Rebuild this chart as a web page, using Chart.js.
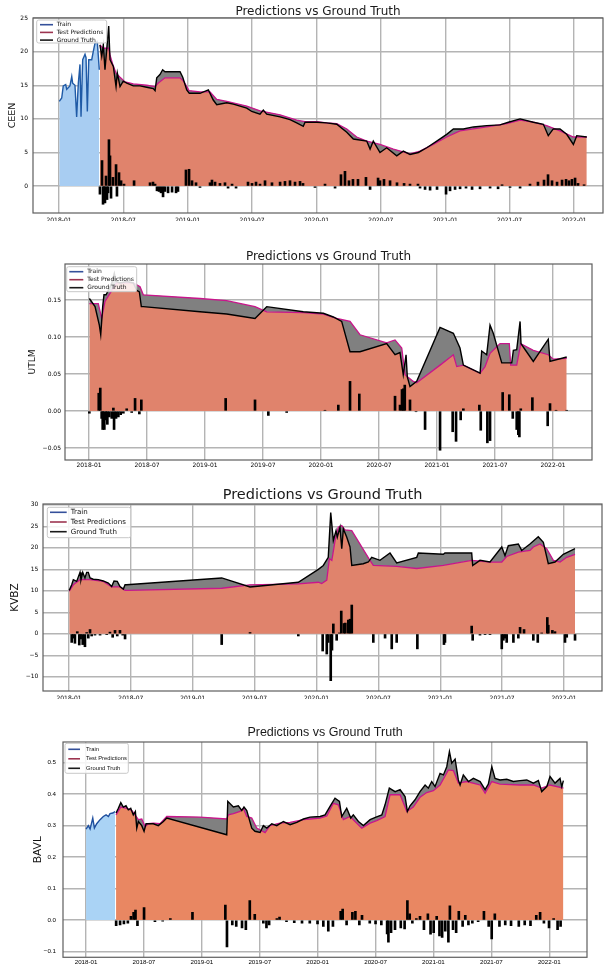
<!DOCTYPE html>
<html><head><meta charset="utf-8">
<script src="https://cdn.jsdelivr.net/npm/chart.js@4.4.1/dist/chart.umd.min.js"></script>
<style>
html,body{margin:0;padding:0;background:#fff;}
body{width:608px;height:968px;position:relative;overflow:hidden;}
canvas{position:absolute;left:0;}
</style></head><body>
<canvas id="c1"></canvas>
<canvas id="c2"></canvas>
<canvas id="c3"></canvas>
<canvas id="c4"></canvas>
<script>
// ---------- shared labels ----------
const chartTitle = 'Predictions vs Ground Truth';
const legendLabels = ['Train', 'Test Predictions', 'Ground Truth'];
const xTickLabels = ['2018-01','2018-07','2019-01','2019-07','2020-01','2020-07','2021-01','2021-07','2022-01'];

// ---------- CEEN ----------
const ceenYTicks = [0, 5, 10, 15, 20, 25];
const ceenTrain = [[2018.002,12.6],[2018.021,13.1],[2018.033,14.9],[2018.052,15.1],[2018.060,14.4],[2018.085,14.9],[2018.099,16.3],[2018.106,15.3],[2018.124,15.0],[2018.137,10.3],[2018.150,15.3],[2018.163,18.1],[2018.171,10.3],[2018.184,18.8],[2018.202,19.6],[2018.210,19.1],[2018.220,11.1],[2018.231,18.8],[2018.254,18.8],[2018.266,20.0],[2018.280,21.3],[2018.297,21.5],[2018.313,17.3]];
const ceenGroundTruth = [[2018.318,21.0],[2018.332,19.3],[2018.344,21.0],[2018.357,17.3],[2018.375,21.3],[2018.386,23.8],[2018.396,18.8],[2018.422,17.8],[2018.443,14.8],[2018.453,16.8],[2018.474,14.8],[2018.499,15.6],[2018.526,15.3],[2018.577,14.9],[2018.629,14.9],[2018.681,14.7],[2018.732,14.5],[2018.746,14.2],[2018.759,16.1],[2018.784,16.6],[2018.805,17.3],[2018.823,17.0],[2018.940,17.0],[2018.961,16.2],[2018.992,14.3],[2019.012,13.8],[2019.095,13.8],[2019.160,14.3],[2019.198,12.8],[2019.225,12.1],[2019.303,12.4],[2019.354,12.2],[2019.458,11.6],[2019.497,11.1],[2019.561,10.7],[2019.587,11.3],[2019.613,10.7],[2019.717,10.3],[2019.794,9.9],[2019.846,9.4],[2019.897,8.9],[2019.911,9.5],[2020.002,9.5],[2020.079,9.4],[2020.157,9.2],[2020.235,8.0],[2020.286,7.0],[2020.390,6.7],[2020.416,5.5],[2020.441,6.7],[2020.493,5.0],[2020.545,5.7],[2020.623,4.5],[2020.674,5.2],[2020.726,4.7],[2020.791,5.0],[2020.856,5.7],[2020.934,6.7],[2021.011,7.7],[2021.063,8.5],[2021.140,8.5],[2021.218,8.8],[2021.322,9.0],[2021.425,9.1],[2021.490,9.5],[2021.581,10.0],[2021.684,9.5],[2021.762,9.2],[2021.800,7.5],[2021.839,8.5],[2021.891,8.5],[2021.943,7.7],[2021.995,6.2],[2022.021,7.5],[2022.099,7.3]];
const ceenPredictions = [[2018.318,21.0],[2018.342,20.5],[2018.386,20.5],[2018.396,19.5],[2018.419,18.0],[2018.443,16.8],[2018.474,16.2],[2018.513,15.5],[2018.577,15.2],[2018.681,15.0],[2018.746,14.8],[2018.769,15.3],[2018.823,16.1],[2018.940,16.1],[2018.971,15.5],[2019.010,14.2],[2019.095,14.0],[2019.173,14.0],[2019.225,12.9],[2019.303,12.6],[2019.458,11.9],[2019.561,11.2],[2019.717,10.6],[2019.846,9.8],[2019.911,9.6],[2020.002,9.6],[2020.079,9.4],[2020.157,9.3],[2020.235,8.5],[2020.312,7.3],[2020.390,6.7],[2020.493,6.2],[2020.597,5.5],[2020.726,4.8],[2020.804,5.2],[2020.907,6.2],[2021.011,7.3],[2021.114,8.2],[2021.322,8.8],[2021.478,9.3],[2021.581,9.8],[2021.684,9.5],[2021.787,9.0],[2021.891,8.2],[2021.995,7.3],[2022.099,7.3]];
const ceenErrors = [[2018.318,-1.2],[2018.334,3.8],[2018.342,-2.7],[2018.350,-1.5],[2018.357,-2.5],[2018.365,1.5],[2018.373,-2.0],[2018.381,-1.0],[2018.388,6.9],[2018.396,4.5],[2018.404,-1.8],[2018.419,1.3],[2018.443,3.2],[2018.450,-1.5],[2018.466,2.0],[2018.482,0.8],[2018.505,0.3],[2018.583,0.8],[2018.707,0.5],[2018.730,0.6],[2018.746,0.3],[2018.761,-0.7],[2018.777,-0.8],[2018.792,-1.0],[2018.808,-1.6],[2018.823,-0.8],[2018.847,-1.0],[2018.878,-0.9],[2018.909,-1.0],[2018.924,-0.8],[2018.986,2.4],[2019.010,2.5],[2019.033,0.8],[2019.064,0.5],[2019.095,-0.2],[2019.173,0.5],[2019.188,0.9],[2019.212,0.6],[2019.250,0.4],[2019.289,0.5],[2019.313,-0.3],[2019.344,0.3],[2019.375,-0.3],[2019.468,0.6],[2019.499,0.4],[2019.530,0.6],[2019.561,0.3],[2019.600,0.8],[2019.654,0.5],[2019.717,0.6],[2019.755,0.7],[2019.794,0.8],[2019.833,0.6],[2019.872,0.7],[2019.895,0.4],[2019.988,-0.2],[2020.066,0.3],[2020.144,-0.3],[2020.190,1.7],[2020.221,2.2],[2020.252,0.8],[2020.283,1.0],[2020.322,1.0],[2020.384,1.3],[2020.416,-0.5],[2020.478,1.2],[2020.493,0.8],[2020.524,1.0],[2020.571,0.8],[2020.625,0.5],[2020.680,0.4],[2020.726,0.3],[2020.788,0.3],[2020.804,-0.3],[2020.843,-0.5],[2020.882,-0.6],[2020.936,-0.5],[2021.006,-1.2],[2021.037,-0.7],[2021.076,-0.5],[2021.115,-0.4],[2021.161,-0.3],[2021.208,-0.5],[2021.270,-0.4],[2021.348,-0.3],[2021.410,-0.4],[2021.441,0.2],[2021.503,-0.2],[2021.581,-0.3],[2021.658,0.3],[2021.720,0.6],[2021.767,0.9],[2021.798,1.7],[2021.829,0.8],[2021.868,0.6],[2021.907,0.9],[2021.938,1.0],[2021.961,0.8],[2021.984,1.0],[2022.008,1.2],[2022.031,0.4],[2022.078,0.2]];

// ---------- UTLM ----------
const utlmYTicks = [-0.05, 0, 0.05, 0.10, 0.15];
const utlmGroundTruth = [[2018.003,0.152],[2018.052,0.141],[2018.089,0.116],[2018.101,0.103],[2018.118,0.141],[2018.129,0.157],[2018.147,0.157],[2018.166,0.163],[2018.196,0.173],[2018.218,0.186],[2018.233,0.175],[2018.267,0.173],[2018.325,0.175],[2018.382,0.173],[2018.411,0.163],[2018.434,0.161],[2018.451,0.141],[2018.468,0.141],[2018.957,0.134],[2019.187,0.131],[2019.431,0.125],[2019.532,0.141],[2019.847,0.134],[2020.020,0.132],[2020.106,0.127],[2020.178,0.121],[2020.250,0.080],[2020.336,0.080],[2020.566,0.091],[2020.638,0.076],[2020.681,0.079],[2020.709,0.049],[2020.733,0.076],[2020.744,0.046],[2020.767,0.033],[2020.825,0.040],[2021.026,0.113],[2021.141,0.105],[2021.198,0.085],[2021.227,0.062],[2021.371,0.051],[2021.385,0.081],[2021.428,0.076],[2021.457,0.116],[2021.485,0.105],[2021.558,0.065],[2021.644,0.065],[2021.658,0.082],[2021.687,0.083],[2021.716,0.121],[2021.724,0.091],[2021.830,0.067],[2021.959,0.097],[2021.974,0.067],[2022.118,0.073]];
const utlmPredictions = [[2018.003,0.145],[2018.080,0.145],[2018.109,0.125],[2018.138,0.148],[2018.181,0.159],[2018.239,0.173],[2018.382,0.173],[2018.440,0.168],[2018.468,0.157],[2018.957,0.152],[2019.187,0.149],[2019.431,0.141],[2019.532,0.134],[2019.847,0.133],[2020.020,0.131],[2020.135,0.125],[2020.250,0.121],[2020.336,0.103],[2020.566,0.092],[2020.638,0.096],[2020.696,0.085],[2020.724,0.049],[2020.796,0.040],[2020.825,0.038],[2021.026,0.062],[2021.141,0.076],[2021.170,0.060],[2021.227,0.062],[2021.371,0.051],[2021.414,0.060],[2021.457,0.078],[2021.543,0.091],[2021.623,0.091],[2021.635,0.062],[2021.687,0.062],[2021.722,0.091],[2021.830,0.082],[2021.959,0.076],[2022.003,0.070],[2022.118,0.071]];
const utlmErrors = [[2018.003,-0.003],[2018.084,0.024],[2018.097,0.031],[2018.109,-0.010],[2018.118,-0.025],[2018.132,-0.025],[2018.147,-0.012],[2018.158,-0.018],[2018.175,-0.008],[2018.196,-0.010],[2018.210,0.004],[2018.216,-0.025],[2018.233,-0.010],[2018.253,-0.008],[2018.273,-0.005],[2018.296,-0.003],[2018.325,0.003],[2018.368,-0.002],[2018.397,0.017],[2018.434,-0.004],[2018.451,0.015],[2019.178,0.017],[2019.431,0.015],[2019.546,-0.006],[2019.704,-0.002],[2020.034,0.001],[2020.149,0.008],[2020.250,0.040],[2020.330,0.023],[2020.638,0.020],[2020.681,0.008],[2020.698,0.029],[2020.710,0.030],[2020.722,0.035],[2020.767,0.015],[2020.819,-0.001],[2020.897,-0.025],[2021.026,-0.053],[2021.135,-0.028],[2021.164,-0.041],[2021.204,-0.012],[2021.227,0.003],[2021.365,0.008],[2021.377,-0.026],[2021.434,-0.043],[2021.457,-0.040],[2021.566,0.025],[2021.623,0.022],[2021.653,-0.010],[2021.687,-0.025],[2021.701,-0.032],[2021.710,-0.035],[2021.722,0.003],[2021.822,0.018],[2021.954,-0.020],[2021.974,0.010],[2022.026,0.001],[2022.118,0.001]];

// ---------- KVBZ ----------
const kvbzYTicks = [-10, -5, 0, 5, 10, 15, 20, 25, 30];
const kvbzGroundTruth = [[2018.002,10.1],[2018.022,11.4],[2018.035,12.6],[2018.062,12.2],[2018.089,14.3],[2018.097,12.6],[2018.111,14.3],[2018.129,13.0],[2018.143,14.3],[2018.156,14.3],[2018.170,13.0],[2018.196,12.7],[2018.237,12.6],[2018.277,12.3],[2018.318,11.8],[2018.345,11.0],[2018.364,12.3],[2018.390,12.2],[2018.412,11.0],[2018.439,10.4],[2018.453,11.4],[2018.466,11.4],[2019.234,13.0],[2019.463,10.9],[2019.853,12.0],[2020.015,15.0],[2020.055,15.9],[2020.095,17.8],[2020.115,28.2],[2020.136,21.7],[2020.158,24.0],[2020.168,22.5],[2020.190,24.8],[2020.204,19.8],[2020.217,24.4],[2020.244,22.5],[2020.271,20.2],[2020.285,15.9],[2020.378,16.3],[2020.419,16.7],[2020.446,17.8],[2020.513,17.1],[2020.594,18.8],[2020.648,16.5],[2020.810,17.8],[2020.823,18.8],[2021.025,18.5],[2021.038,18.8],[2021.254,18.8],[2021.262,15.9],[2021.321,17.1],[2021.402,16.7],[2021.497,20.2],[2021.523,18.2],[2021.550,20.5],[2021.631,20.9],[2021.658,19.4],[2021.725,20.9],[2021.792,22.6],[2021.833,21.3],[2021.873,16.3],[2021.927,16.7],[2021.994,18.5],[2022.089,19.8]];
const kvbzPredictions = [[2018.002,9.9],[2018.035,11.4],[2018.089,12.6],[2018.170,12.6],[2018.277,12.2],[2018.345,10.9],[2018.412,10.9],[2018.453,10.1],[2018.471,10.1],[2019.234,10.6],[2019.463,11.4],[2019.853,11.6],[2020.015,12.0],[2020.042,11.7],[2020.083,12.5],[2020.104,17.5],[2020.124,17.1],[2020.150,21.7],[2020.176,24.8],[2020.204,25.2],[2020.230,24.2],[2020.285,24.0],[2020.432,17.1],[2020.459,15.9],[2020.648,15.7],[2020.810,15.2],[2021.025,15.9],[2021.254,17.1],[2021.402,16.7],[2021.497,16.7],[2021.537,18.0],[2021.631,19.0],[2021.725,19.4],[2021.752,20.2],[2021.806,20.9],[2021.860,19.8],[2021.914,17.1],[2021.968,16.7],[2022.022,17.8],[2022.089,18.5]];
const kvbzErrors = [[2018.022,-2.0],[2018.035,-1.0],[2018.048,-2.2],[2018.067,0.5],[2018.083,-2.6],[2018.094,-1.2],[2018.111,-2.5],[2018.129,-3.0],[2018.143,0.3],[2018.156,-1.0],[2018.170,1.0],[2018.183,-0.5],[2018.210,-0.3],[2018.251,-0.3],[2018.305,-0.2],[2018.331,0.4],[2018.353,-0.8],[2018.372,0.8],[2018.390,-0.5],[2018.412,0.8],[2018.434,-0.3],[2018.453,-1.2],[2019.234,-2.5],[2019.463,0.3],[2019.853,-0.5],[2020.050,-4.0],[2020.083,-4.7],[2020.095,-2.0],[2020.115,-10.9],[2020.125,-3.8],[2020.136,2.3],[2020.163,-1.5],[2020.184,0.2],[2020.200,5.3],[2020.222,2.4],[2020.233,2.5],[2020.257,3.2],[2020.271,3.4],[2020.285,6.7],[2020.459,-2.0],[2020.554,-1.0],[2020.608,-3.5],[2020.648,-2.0],[2020.815,-3.5],[2021.030,-2.5],[2021.038,-2.0],[2021.254,1.8],[2021.262,-1.5],[2021.321,-0.3],[2021.362,-0.2],[2021.402,-0.2],[2021.497,-3.5],[2021.510,-1.5],[2021.523,-1.0],[2021.537,-2.0],[2021.591,-2.0],[2021.631,-1.0],[2021.645,1.5],[2021.677,1.0],[2021.752,-1.5],[2021.788,-2.0],[2021.820,0.2],[2021.865,3.8],[2021.873,2.0],[2021.906,0.8],[2021.927,0.5],[2022.008,-2.0],[2022.022,-0.8],[2022.089,-1.5]];

// ---------- BAVL ----------
const bavlYTicks = [-0.1, 0, 0.1, 0.2, 0.3, 0.4, 0.5];
const bavlTrain = [[2018.000,0.289],[2018.020,0.300],[2018.035,0.289],[2018.058,0.324],[2018.072,0.292],[2018.092,0.306],[2018.121,0.319],[2018.149,0.329],[2018.173,0.334],[2018.193,0.329],[2018.207,0.338],[2018.231,0.340],[2018.250,0.345]];
const bavlGroundTruth = [[2018.259,0.340],[2018.279,0.355],[2018.300,0.373],[2018.322,0.359],[2018.345,0.363],[2018.365,0.350],[2018.386,0.355],[2018.408,0.334],[2018.426,0.345],[2018.438,0.292],[2018.452,0.313],[2018.481,0.300],[2018.501,0.282],[2018.518,0.306],[2018.581,0.306],[2018.624,0.300],[2018.668,0.313],[2018.697,0.324],[2019.215,0.271],[2019.224,0.377],[2019.272,0.359],[2019.315,0.363],[2019.345,0.348],[2019.364,0.359],[2019.388,0.348],[2019.410,0.319],[2019.431,0.292],[2019.459,0.282],[2019.503,0.278],[2019.531,0.300],[2019.561,0.292],[2019.604,0.306],[2019.647,0.300],[2019.704,0.313],[2019.762,0.303],[2019.820,0.310],[2019.877,0.321],[2019.934,0.327],[2020.021,0.329],[2020.064,0.334],[2020.107,0.361],[2020.150,0.387],[2020.188,0.377],[2020.208,0.329],[2020.251,0.355],[2020.286,0.324],[2020.308,0.334],[2020.352,0.313],[2020.395,0.300],[2020.453,0.319],[2020.504,0.327],[2020.554,0.334],[2020.582,0.366],[2020.619,0.419],[2020.669,0.408],[2020.712,0.414],[2020.755,0.392],[2020.775,0.345],[2020.798,0.363],[2020.841,0.382],[2020.884,0.408],[2020.928,0.429],[2020.956,0.419],[2020.985,0.440],[2021.014,0.424],[2021.057,0.466],[2021.086,0.461],[2021.115,0.487],[2021.138,0.535],[2021.158,0.498],[2021.187,0.511],[2021.215,0.445],[2021.230,0.429],[2021.258,0.461],[2021.302,0.440],[2021.345,0.450],[2021.403,0.440],[2021.446,0.414],[2021.474,0.432],[2021.504,0.487],[2021.532,0.450],[2021.575,0.445],[2021.633,0.447],[2021.690,0.440],[2021.748,0.443],[2021.806,0.445],[2021.863,0.435],[2021.906,0.443],[2021.935,0.408],[2021.979,0.424],[2022.007,0.456],[2022.050,0.435],[2022.093,0.450],[2022.108,0.424],[2022.122,0.443]];
const bavlPredictions = [[2018.259,0.334],[2018.300,0.359],[2018.351,0.355],[2018.395,0.348],[2018.423,0.334],[2018.452,0.319],[2018.481,0.321],[2018.510,0.297],[2018.538,0.306],[2018.581,0.308],[2018.639,0.306],[2018.697,0.329],[2018.984,0.327],[2019.215,0.321],[2019.229,0.334],[2019.272,0.338],[2019.330,0.345],[2019.358,0.355],[2019.388,0.329],[2019.431,0.324],[2019.474,0.292],[2019.546,0.278],[2019.589,0.300],[2019.675,0.308],[2019.762,0.310],[2019.877,0.319],[2019.934,0.321],[2020.021,0.324],[2020.079,0.331],[2020.136,0.371],[2020.179,0.366],[2020.222,0.319],[2020.280,0.329],[2020.323,0.313],[2020.381,0.292],[2020.453,0.308],[2020.510,0.316],[2020.582,0.329],[2020.625,0.398],[2020.712,0.398],[2020.770,0.345],[2020.826,0.359],[2020.884,0.390],[2020.942,0.405],[2020.999,0.411],[2021.057,0.429],[2021.129,0.477],[2021.172,0.475],[2021.215,0.435],[2021.288,0.440],[2021.403,0.429],[2021.446,0.403],[2021.504,0.440],[2021.575,0.432],[2021.748,0.429],[2021.863,0.429],[2021.935,0.419],[2022.007,0.429],[2022.122,0.419]];
const bavlErrors = [[2018.260,-0.018],[2018.294,-0.015],[2018.327,-0.012],[2018.361,-0.010],[2018.388,0.012],[2018.411,0.025],[2018.427,0.032],[2018.444,-0.018],[2018.501,0.040],[2018.595,-0.005],[2018.662,-0.003],[2018.728,0.005],[2018.919,0.025],[2019.203,0.048],[2019.217,-0.085],[2019.263,-0.015],[2019.297,-0.020],[2019.347,-0.025],[2019.380,-0.030],[2019.414,0.062],[2019.457,0.018],[2019.531,-0.010],[2019.558,-0.025],[2019.581,-0.015],[2019.648,0.005],[2019.671,0.010],[2019.731,-0.005],[2019.798,-0.008],[2019.865,-0.010],[2019.932,-0.010],[2019.999,-0.012],[2020.049,-0.020],[2020.092,-0.035],[2020.132,-0.020],[2020.199,0.028],[2020.216,0.035],[2020.250,-0.015],[2020.300,0.025],[2020.326,0.028],[2020.360,-0.015],[2020.383,0.015],[2020.450,-0.010],[2020.500,-0.012],[2020.550,-0.015],[2020.600,-0.044],[2020.611,-0.070],[2020.634,-0.040],[2020.668,-0.030],[2020.718,-0.025],[2020.751,-0.028],[2020.775,0.062],[2020.795,0.020],[2020.818,-0.010],[2020.852,0.005],[2020.884,0.012],[2020.918,-0.030],[2020.952,0.020],[2020.975,-0.045],[2021.002,-0.040],[2021.028,0.012],[2021.052,-0.050],[2021.075,-0.055],[2021.102,-0.035],[2021.129,-0.070],[2021.142,0.045],[2021.169,-0.030],[2021.196,-0.040],[2021.219,0.028],[2021.252,-0.020],[2021.275,0.015],[2021.302,-0.015],[2021.336,-0.010],[2021.386,-0.005],[2021.436,0.028],[2021.477,-0.020],[2021.503,-0.060],[2021.530,0.020],[2021.570,-0.020],[2021.620,-0.015],[2021.670,-0.018],[2021.737,-0.020],[2021.788,-0.015],[2021.838,-0.018],[2021.888,0.015],[2021.921,0.025],[2021.954,-0.010],[2021.998,-0.025],[2022.038,0.005],[2022.072,-0.030],[2022.098,-0.020]];

// ---------- helpers ----------
const toYear = l => { const [y, m] = l.split('-').map(Number); return y + (m - 1) / 12; };
const toXY = arr => arr.map(([x, y]) => ({ x, y }));
const legendColors = ['#34509a', '#9c3450', '#1a1a1a'];

const framePlugin = {
  id: 'frame',
  afterDatasetsDraw(chart) {
    const { ctx, chartArea: a } = chart;
    ctx.save();
    ctx.strokeStyle = '#5e5e5e';
    ctx.lineWidth = 1.2;
    ctx.strokeRect(a.left, a.top, a.right - a.left, a.bottom - a.top);
    ctx.restore();
  }
};
const legendPlugin = {
  id: 'mplLegend',
  afterDraw(chart, args, o) {
    const { ctx, chartArea: a } = chart;
    const x = a.left + o.dx, y = a.top + o.dy;
    ctx.save();
    ctx.beginPath();
    ctx.roundRect(x, y, o.w, o.h, 2);
    ctx.fillStyle = 'rgba(255,255,255,0.85)';
    ctx.fill();
    ctx.strokeStyle = '#c8c8c8';
    ctx.lineWidth = 1;
    ctx.stroke();
    ctx.font = o.size + 'px ' + o.family;
    ctx.textBaseline = 'middle';
    ctx.textAlign = 'left';
    legendLabels.forEach((lab, i) => {
      const cy = y + o.first + i * o.gap;
      ctx.beginPath();
      ctx.strokeStyle = legendColors[i];
      ctx.lineWidth = 1.6;
      ctx.moveTo(x + o.l0, cy);
      ctx.lineTo(x + o.l1, cy);
      ctx.stroke();
      ctx.fillStyle = '#111';
      ctx.fillText(lab, x + o.tx, cy);
    });
    ctx.restore();
  }
};

function panel(p) {
  const cv = document.getElementById(p.id);
  cv.width = 608; cv.height = p.height;
  cv.style.width = '608px'; cv.style.height = p.height + 'px'; cv.style.top = p.top + 'px';
  const datasets = [
    { label: 'Test Predictions', data: toXY(p.pred), borderColor: '#c8168c', borderWidth: 1.3,
      backgroundColor: p.orange, fill: 'origin', pointRadius: 0, tension: 0, order: 5 },
    { label: 'Ground Truth', data: toXY(p.gt), borderColor: '#000', borderWidth: 1.4,
      backgroundColor: '#808080', fill: { target: 0, above: '#808080', below: '#808080' },
      pointRadius: 0, tension: 0, order: 4 }
  ];
  if (p.train) datasets.push({ label: 'Train', data: toXY(p.train), borderColor: p.trainLine, borderWidth: 1.4,
      backgroundColor: p.trainFill, fill: 'origin', pointRadius: 0, tension: 0, order: 3 });
  datasets.push({ type: 'bar', label: 'Error', data: toXY(p.err), backgroundColor: '#000',
      borderWidth: 0, barThickness: 2, order: 2 });
  const fam = p.family;
  new Chart(cv, {
    type: 'line',
    data: { datasets },
    plugins: [framePlugin, legendPlugin],
    options: {
      responsive: false, animation: false, devicePixelRatio: 1,
      layout: { padding: { left: 0, top: 0, right: 608 - p.R, bottom: p.height - (p.B - p.top) - 8 } },
      plugins: {
        legend: { display: false }, tooltip: { enabled: false },
        filler: { drawTime: 'beforeDatasetsDraw' },
        title: { display: true, text: chartTitle, fullSize: false, color: '#1a1a1a',
          font: { size: p.titleSize, family: fam, weight: 'normal', lineHeight: 1 },
          padding: { top: p.titleY - p.top - p.titleSize / 2, bottom: p.T - p.titleY - p.titleSize / 2 } },
        mplLegend: p.legend
      },
      scales: {
        x: { type: 'linear', min: p.xMin, max: p.xMax, offset: false, bounds: 'data',
          afterBuildTicks: s => { s.ticks = xTickLabels.map(l => ({ value: toYear(l) })); },
          afterFit: s => { s.height = 8; },
          ticks: { callback: (v, i) => xTickLabels[i], autoSkip: false, maxRotation: 0, minRotation: 0,
            padding: p.xPad, color: '#000', font: { size: p.tickSize, family: fam } },
          grid: { color: '#b4b4b4', lineWidth: 1.4, drawTicks: false, offset: false },
          border: { display: false } },
        y: { type: 'linear', min: p.yMin, max: p.yMax,
          afterBuildTicks: s => { s.ticks = p.yTicks.map(v => ({ value: v })); },
          afterFit: s => { s.width = p.L; },
          ticks: { callback: v => v.toFixed(p.dec).replace('-', '\u2212'), padding: p.yPad, color: '#000',
            font: { size: p.tickSize, family: fam } },
          grid: { color: '#b4b4b4', lineWidth: 1.4, drawTicks: false },
          border: { display: false },
          title: { display: true, text: p.name, color: '#111',
            font: { size: p.labelSize, family: fam, lineHeight: 1 },
            padding: { top: p.labelX - p.labelSize / 2, bottom: 0 } } }
      }
    }
  });
}

const orangeA = 'rgb(224,131,108)';
panel({ id: 'c1', name: 'CEEN', top: 0, height: 240, L: 33, T: 18, R: 603, B: 213,
  titleY: 12, titleSize: 12, labelX: 13, labelSize: 9.5, tickSize: 6, xPad: 3.4, yPad: 5,
  family: 'DejaVu Sans', xMin: 2017.798, xMax: 2022.225, yMin: -4, yMax: 25, yTicks: ceenYTicks, dec: 0,
  pred: ceenPredictions, gt: ceenGroundTruth, train: ceenTrain, err: ceenErrors,
  orange: orangeA, trainFill: '#a8cdf2', trainLine: '#1f5aa6',
  legend: { dx: 3.7, dy: 2, w: 70, h: 23, first: 4.7, gap: 7.7, l0: 3.3, l1: 16.3, tx: 20, size: 6, family: 'DejaVu Sans' } });

panel({ id: 'c2', name: 'UTLM', top: 236, height: 240, L: 65, T: 264, R: 592, B: 460,
  titleY: 257, titleSize: 12, labelX: 33, labelSize: 9, tickSize: 6, xPad: 2.1, yPad: 4,
  family: 'DejaVu Sans', xMin: 2017.793, xMax: 2022.336, yMin: -0.0662, yMax: 0.1986, yTicks: utlmYTicks, dec: 2,
  pred: utlmPredictions, gt: utlmGroundTruth, train: null, err: utlmErrors,
  orange: orangeA,
  legend: { dx: 1.7, dy: 2.7, w: 70, h: 25, first: 5, gap: 8, l0: 2.6, l1: 16.6, tx: 20.6, size: 6, family: 'DejaVu Sans' } });

panel({ id: 'c3', name: 'KVBZ', top: 476, height: 240, L: 43, T: 504, R: 602, B: 691,
  titleY: 495, titleSize: 14.5, labelX: 15, labelSize: 10.5, tickSize: 6, xPad: 3.4, yPad: 4.7,
  family: 'DejaVu Sans', xMin: 2017.790, xMax: 2022.307, yMin: -13.3, yMax: 30.2, yTicks: kvbzYTicks, dec: 0,
  pred: kvbzPredictions, gt: kvbzGroundTruth, train: null, err: kvbzErrors,
  orange: orangeA,
  legend: { dx: 4.3, dy: 3.3, w: 83.4, h: 30.4, first: 5, gap: 9.7, l0: 2.7, l1: 19.4, tx: 23.4, size: 7.1, family: 'DejaVu Sans' } });

panel({ id: 'c4', name: 'BAVL', top: 716, height: 252, L: 63, T: 742, R: 587, B: 958,
  titleY: 733, titleSize: 12.5, labelX: 38, labelSize: 11, tickSize: 6.2, xPad: 1.7, yPad: 7,
  family: 'Liberation Sans', xMin: 2017.801, xMax: 2022.326, yMin: -0.118, yMax: 0.5655, yTicks: bavlYTicks, dec: 1,
  pred: bavlPredictions, gt: bavlGroundTruth, train: bavlTrain, err: bavlErrors,
  orange: 'rgb(233,135,98)', trainFill: '#aad3f5', trainLine: '#1f4f9f',
  legend: { dx: 2, dy: 1.3, w: 63.3, h: 30, first: 6, gap: 9.5, l0: 3.3, l1: 15, tx: 21, size: 5.8, family: 'Liberation Sans' } });
</script>
</body></html>
